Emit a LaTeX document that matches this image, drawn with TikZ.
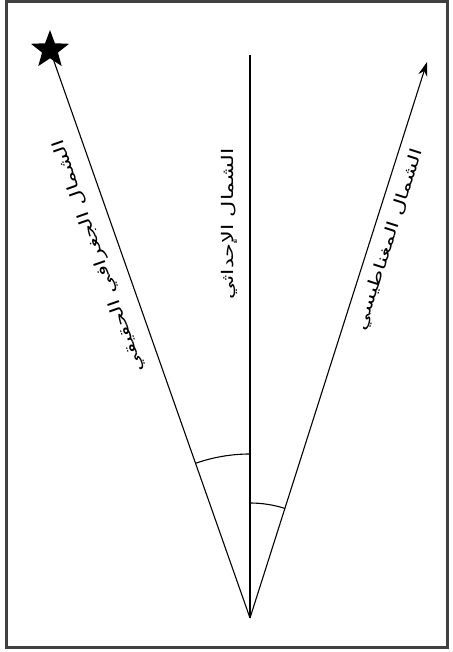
\documentclass[tikz,border=0pt]{standalone}
\usepackage{fontspec}
\usetikzlibrary{shapes.geometric,arrows.meta}
\newfontfamily\arabicfont[Script=Arabic]{DejaVu Sans}
\TeXXeTstate=1
\newcommand{\arlabel}[1]{\scalebox{1.4}[1]{\beginR #1\endR}}
\begin{document}
\begin{tikzpicture}[x=1pt,y=1pt,
  frame/.style={draw=black!75,line width=3pt},
  ray/.style={draw=black,line width=1.1pt},
  anglemark/.style={draw=black,line width=1.1pt},
  lbl/.style={font=\arabicfont\fontsize{16}{19}\selectfont,inner sep=0pt}]
\useasboundingbox (0,0) rectangle (452,652);
\draw[frame] (6,4) rectangle (447,650);
\coordinate (apex) at (250,34);
\coordinate (gridtop) at (250,597);
\coordinate (magtip) at (427,590);
\node[star,star points=5,star point ratio=2.4,fill=black,minimum size=40pt,inner sep=0pt] (star) at (50,602) {};
\draw[ray] (apex) -- (star.center);
\draw[ray] (apex) -- (gridtop);
\draw[ray,-{Stealth[length=14pt,width=9pt]}] (apex) -- (magtip);
\draw[anglemark] ([shift={(90:164)}]apex) arc[start angle=90,end angle=109.4,radius=164];
\draw[anglemark] ([shift={(90:115)}]apex) arc[start angle=90,end angle=72.3,radius=115];
\node[lbl,rotate=109.4] (truelbl) at (99,396) {\arlabel{الشمال الجغرافي الحقيقي}};
\node[lbl,rotate=90] (gridlbl) at (229,428) {\arlabel{الشمال الإحداثي}};
\node[lbl,rotate=72.3] (maglbl) at (390,412) {\arlabel{الشمال المغناطيسي}};
\end{tikzpicture}
\end{document}
